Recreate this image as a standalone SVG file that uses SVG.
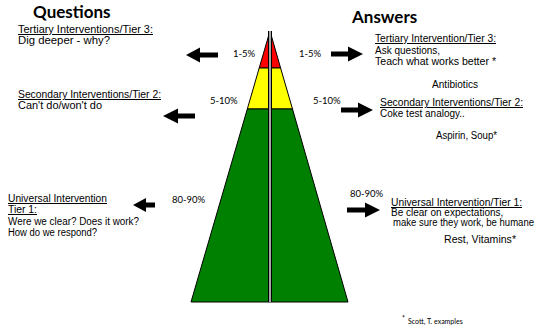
<svg xmlns="http://www.w3.org/2000/svg" width="545" height="330" viewBox="0 0 545 330">
<style>
.h{font-family:Lato,"Open Sans","Liberation Sans",sans-serif;font-weight:bold;font-size:17px;fill:#000}
.t{font-family:"Liberation Sans",Arial,sans-serif;font-size:10px;fill:#000}
.s{font-size:9px}
.u{text-decoration:underline}
.p{font-family:Lato,"Liberation Sans",sans-serif;font-size:9.5px;fill:#000}
.f{font-family:Lato,"Liberation Sans",sans-serif;font-size:7px;fill:#000}
.seg{stroke:#000;stroke-width:1;stroke-linejoin:round}
.arr{fill:#000}
</style>
<rect width="545" height="330" fill="#fff"/>
<g id="pyramid">
<polygon class="seg" fill="#ff0000" points="270,31 280.6,68 259.2,68"/>
<polygon class="seg" fill="#ffff00" points="259.2,68 280.6,68 292.5,109 247.3,109"/>
<polygon class="seg" fill="#008000" points="247.3,109 292.5,109 348,302 191,302"/>
<line x1="270" y1="31" x2="270" y2="302" stroke="#000" stroke-width="4"/>
<line x1="270" y1="31" x2="270" y2="302" stroke="#a6a6a6" stroke-width="2"/>
</g>
<g id="titles">
<text class="h" x="33" y="18">Questions</text>
<text class="h" x="352" y="23">Answers</text>
</g>
<g id="percent-labels">
<text class="p" x="233" y="57">1-5%</text>
<text class="p" x="299" y="57">1-5%</text>
<text class="p" x="210" y="104">5-10%</text>
<text class="p" x="313" y="104">5-10%</text>
<text class="p" x="172" y="203">80-90%</text>
<text class="p" x="350" y="197">80-90%</text>
</g>
<g id="q-tier3">
<text class="t u" x="18" y="33" textLength="135" lengthAdjust="spacingAndGlyphs">Tertiary Interventions/Tier 3:</text>
<text class="t" x="18" y="44" textLength="92" lengthAdjust="spacingAndGlyphs">Dig deeper - why?</text>
</g>
<g id="q-tier2">
<text class="t u" x="18" y="98" textLength="143" lengthAdjust="spacingAndGlyphs">Secondary Interventions/Tier 2:</text>
<text class="t" x="18" y="109" textLength="84" lengthAdjust="spacingAndGlyphs">Can't do/won't do</text>
</g>
<g id="q-tier1">
<text class="t u" x="8" y="202" textLength="99" lengthAdjust="spacingAndGlyphs">Universal Intervention</text>
<text class="t u" x="8" y="213" textLength="29" lengthAdjust="spacingAndGlyphs">Tier 1:</text>
<text class="t" x="8" y="225" textLength="131" lengthAdjust="spacingAndGlyphs">Were we clear? Does it work?</text>
<text class="t" x="8" y="236" textLength="89" lengthAdjust="spacingAndGlyphs">How do we respond?</text>
</g>
<g id="a-tier3">
<text class="t u" x="375" y="42" textLength="121" lengthAdjust="spacingAndGlyphs">Tertiary Intervention/Tier 3:</text>
<text class="t" x="375" y="54">Ask questions,</text>
<text class="t" x="375" y="65" textLength="121" lengthAdjust="spacingAndGlyphs">Teach what works better *</text>
<text class="t" x="432" y="88" textLength="46" lengthAdjust="spacingAndGlyphs">Antibiotics</text>
</g>
<g id="a-tier2">
<text class="t u" x="380" y="106" textLength="143" lengthAdjust="spacingAndGlyphs">Secondary Interventions/Tier 2:</text>
<text class="t" x="380" y="117">Coke test analogy..</text>
<text class="t" x="436" y="139" textLength="61" lengthAdjust="spacingAndGlyphs">Aspirin, Soup*</text>
</g>
<g id="a-tier1">
<text class="t u" x="391" y="206" textLength="131" lengthAdjust="spacingAndGlyphs">Universal Intervention/Tier 1:</text>
<text class="t" x="391" y="216">Be clear on expectations,</text>
<text class="t" x="393" y="226" textLength="141" lengthAdjust="spacingAndGlyphs">make sure they work, be humane</text>
<text class="t" x="444" y="243" textLength="72" lengthAdjust="spacingAndGlyphs">Rest, Vitamins*</text>
</g>
<g id="footnote">
<text class="f" x="402" y="321" font-size="11">*</text>
<text class="f" x="408" y="324">Scott, T. examples</text>
</g>
<g id="connectors">
<polygon class="arr" points="186,55 200,47.5 200,52.5 218,52.5 218,57.5 200,57.5 200,62.5"/>
<polygon class="arr" points="163,116 178,108.5 178,113.5 195,113.5 195,118.5 178,118.5 178,123.5"/>
<polygon class="arr" points="133,205 146,198 146,202.5 155,202.5 155,207.5 146,207.5 146,212"/>
<polygon class="arr" points="363,54 348,46.5 348,51.5 331,51.5 331,56.5 348,56.5 348,61.5"/>
<polygon class="arr" points="373,110 358,102.5 358,107.5 341,107.5 341,112.5 358,112.5 358,117.5"/>
<polygon class="arr" points="380,210 365,202.5 365,207.5 347,207.5 347,212.5 365,212.5 365,217.5"/>
</g>
</svg>
